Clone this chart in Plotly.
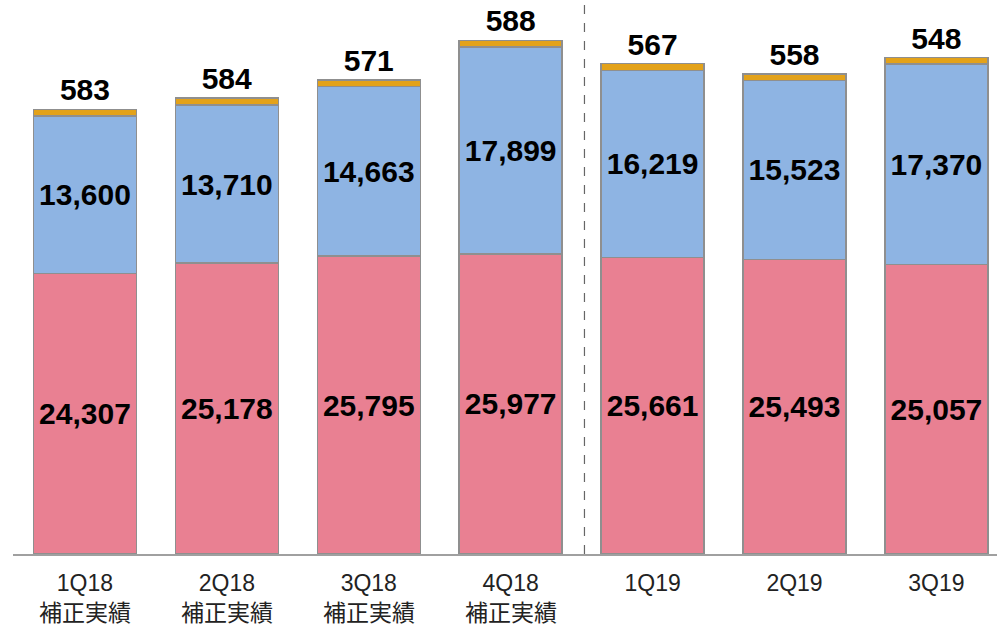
import plotly.graph_objects as go

categories = ["1Q18", "2Q18", "3Q18", "4Q18", "1Q19", "2Q19", "3Q19"]
sublabels = ["補正実績", "補正実績", "補正実績", "補正実績", "", "", ""]
pink_vals = [24307, 25178, 25795, 25977, 25661, 25493, 25057]
blue_vals = [13600, 13710, 14663, 17899, 16219, 15523, 17370]
orange_vals = [583, 584, 571, 588, 567, 558, 548]

PINK = "#E98092"
BLUE = "#8EB4E3"
ORANGE = "#E3A21A"
EDGE = "#8f8f8f"
LABEL_FONT = dict(family="Liberation Sans, Arial, sans-serif", size=30, color="#000000")
TICK_FAMILY = "Liberation Sans, Noto Sans CJK JP, sans-serif"

x = list(range(len(categories)))

def bar(vals, color, pos):
    return go.Bar(
        x=x, y=vals, width=0.726,
        marker=dict(color=color, line=dict(color=EDGE, width=1.5)),
        text=[f"<b>{v:,}</b>" for v in vals],
        textposition=pos, textangle=0, constraintext="none",
        insidetextanchor="middle",
        textfont=LABEL_FONT, outsidetextfont=LABEL_FONT, insidetextfont=LABEL_FONT,
        cliponaxis=False, hoverinfo="skip", showlegend=False,
    )

fig = go.Figure([bar(pink_vals, PINK, "inside"), bar(blue_vals, BLUE, "inside"),
                 bar(orange_vals, ORANGE, "outside")])

annotations = []
for xi, s in zip(x, sublabels):
    if s:
        annotations.append(dict(x=xi, y=-0.1035, xref="x", yref="paper", text=s,
                                showarrow=False, xanchor="center", yanchor="middle",
                                font=dict(family="Noto Sans CJK JP, sans-serif", size=23,
                                          color="#222222")))

fig.update_layout(
    width=997, height=627, barmode="stack",
    margin=dict(l=13, r=0, t=0, b=73, autoexpand=False),
    paper_bgcolor="white", plot_bgcolor="white",
    font=dict(family=TICK_FAMILY, color="#222222"),
    xaxis=dict(range=[-0.507, 6.427], tickmode="array", tickvals=x, ticktext=categories,
               tickfont=dict(size=23, family=TICK_FAMILY, color="#222222"),
               showline=True, linecolor="#a0a0a0", linewidth=1.5, ticks="",
               showgrid=False, zeroline=False, ticklabelstandoff=8, automargin=False),
    yaxis=dict(range=[0, 47965], visible=False, showgrid=False, zeroline=False,
               automargin=False),
    annotations=annotations,
    shapes=[dict(type="line", xref="x", yref="paper", x0=3.52, x1=3.52, y0=0, y1=1,
                 line=dict(color="#666666", width=1.2, dash="dash"))],
)

fig.write_html("out.html", config={"displayModeBar": False},
               post_script="document.body.style.margin='0';document.body.style.overflow='hidden';")
